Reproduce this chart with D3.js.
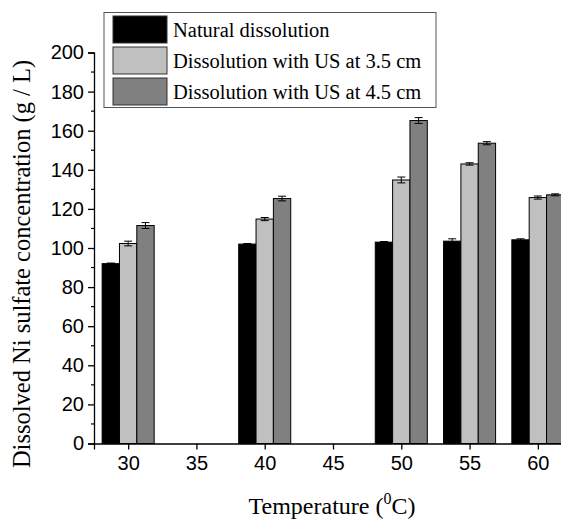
<!DOCTYPE html>
<html><head><meta charset="utf-8">
<script src="https://cdn.jsdelivr.net/npm/d3@7"></script>
<style>body{margin:0;background:#fff}svg{display:block}</style>
</head><body>
<svg id="c" width="561" height="521"></svg>
<script>
const temps = [30, 40, 50, 55, 60];
const seriesNames = ["Natural dissolution", "Dissolution with US at 3.5 cm", "Dissolution with US at 4.5 cm"];
const natural = [92, 102, 103, 103.5, 104.2];
const us35 = [102.3, 114.8, 134.8, 143, 125.8];
const us45 = [111.5, 125.3, 165.2, 153.6, 127.2];
const errNatural = [0.3, 0.3, 0.3, 1.2, 0.5];
const errUs35 = [1.2, 0.8, 1.5, 0.6, 0.8];
const errUs45 = [1.5, 1.2, 1.5, 0.8, 0.5];
const xTicks = [30, 35, 40, 45, 50, 55, 60];
const yTicks = [0, 20, 40, 60, 80, 100, 120, 140, 160, 180, 200];
const colors = ["#000000", "#c0c0c0", "#808080"];

const svg = d3.select("#c");
const x = d3.scaleLinear().domain([27.5, 62.5]).range([94, 572]);
const y = d3.scaleLinear().domain([0, 200]).range([443.5, 52.5]);
const bw = 1.27; // bar width in data units

const vals = [natural, us35, us45];
const errs = [errNatural, errUs35, errUs45];

const g = svg.append("g");
vals.forEach((arr, s) => {
  arr.forEach((v, i) => {
    const cx = temps[i] + (s - 1) * bw;
    const x0 = x(cx - bw / 2), x1 = x(cx + bw / 2);
    g.append("rect").attr("x", x0).attr("y", y(v)).attr("width", x1 - x0).attr("height", y(0) - y(v))
      .attr("fill", colors[s]).attr("stroke", "#000").attr("stroke-width", 1);
    const e = errs[s][i];
    const xc = x(cx);
    g.append("line").attr("x1", xc).attr("x2", xc).attr("y1", y(v - e)).attr("y2", y(v + e)).attr("stroke", "#000").attr("stroke-width", 1);
    [v - e, v + e].forEach(t => g.append("line").attr("x1", xc - 4).attr("x2", xc + 4).attr("y1", y(t)).attr("y2", y(t)).attr("stroke", "#000").attr("stroke-width", 1));
  });
});

// y axis
const yAxis = d3.axisLeft(y).tickValues(yTicks).tickSize(6).tickPadding(4);
const ya = svg.append("g").attr("transform", "translate(94,0)").call(yAxis);
ya.select(".domain").attr("stroke", "#000").attr("stroke-width", 1.3);
ya.selectAll("text").attr("font-family", "Liberation Sans, Arial").attr("font-size", 20).attr("fill", "#000");
ya.selectAll(".tick line").attr("stroke-width", 1.3);
const minor = d3.range(10, 200, 20);
svg.append("g").selectAll("line").data(minor).join("line")
  .attr("x1", 91).attr("x2", 94).attr("y1", d => y(d)).attr("y2", d => y(d)).attr("stroke", "#000").attr("stroke-width", 1.2);

// x axis
const xAxis = d3.axisBottom(x).tickValues(xTicks).tickSize(6).tickPadding(6);
const xa = svg.append("g").attr("transform", "translate(0,443.5)").call(xAxis);
xa.select(".domain").attr("stroke", "#000").attr("stroke-width", 1.3);
xa.selectAll("text").attr("font-family", "Liberation Sans, Arial").attr("font-size", 20).attr("fill", "#000");
xa.selectAll(".tick line").attr("stroke-width", 1.3);

// axis titles
const xt = svg.append("text").attr("x", 332).attr("y", 514).attr("text-anchor", "middle")
  .attr("font-family", "Liberation Serif, Times New Roman").attr("font-size", 24).attr("fill", "#000");
xt.append("tspan").text("Temperature (");
xt.append("tspan").attr("dy", -10).attr("font-size", 16).text("0");
xt.append("tspan").attr("dy", 10).text("C)");

svg.append("text").attr("transform", "translate(30,264) rotate(-90)").attr("text-anchor", "middle")
  .attr("font-family", "Liberation Serif, Times New Roman").attr("font-size", 24.5).attr("fill", "#000")
  .text("Dissolved Ni sulfate concentration (g / L)");

// legend
const lg = svg.append("g");
lg.append("rect").attr("x", 104).attr("y", 12.5).attr("width", 332).attr("height", 95)
  .attr("fill", "#fff").attr("stroke", "#555").attr("stroke-width", 1);
seriesNames.forEach((n, i) => {
  const yy = 16 + i * 31;
  lg.append("rect").attr("x", 113).attr("y", yy).attr("width", 54).attr("height", 27)
    .attr("fill", colors[i]).attr("stroke", "#333").attr("stroke-width", 1);
  lg.append("text").attr("x", 173).attr("y", yy + 21).attr("font-family", "Liberation Serif, Times New Roman")
    .attr("font-size", 20.5).attr("fill", "#000").text(n);
});
</script>
</body></html>
